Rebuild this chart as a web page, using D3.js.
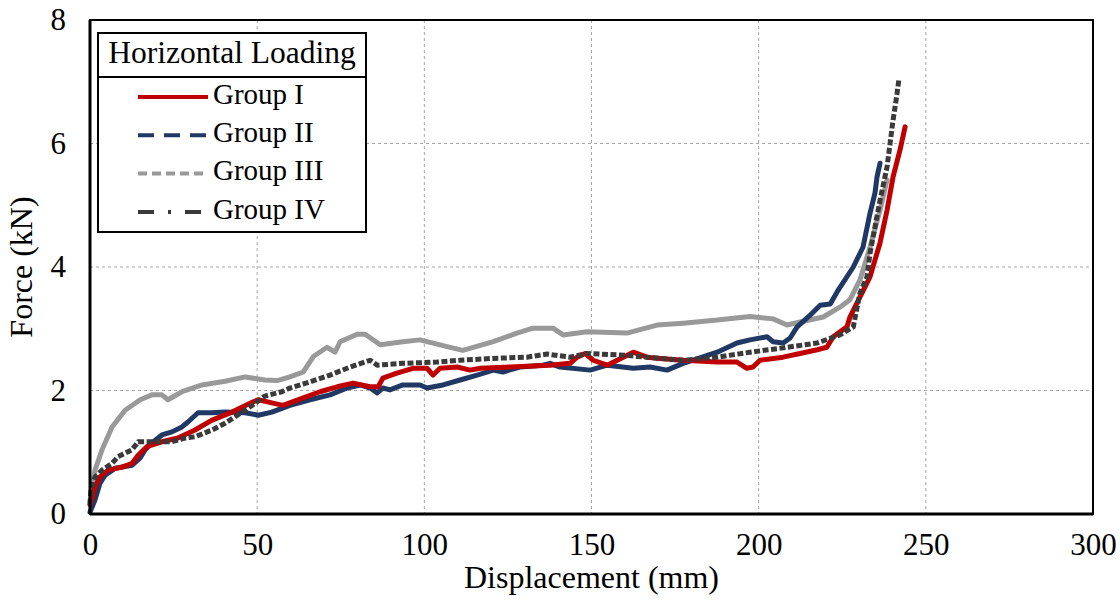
<!DOCTYPE html>
<html>
<head>
<meta charset="utf-8">
<script src="https://cdn.jsdelivr.net/npm/d3@7"></script>
<style>
  body { margin: 0; background: #fff; }
  svg { display: block; }
  svg text { font-family: "Liberation Serif", "Times New Roman", "DejaVu Serif", serif; }
</style>
</head>
<body>
<svg id="chart" width="1120" height="600"></svg>
<script>
// displacement (mm) / force (kN)
const groupI = [
  [0,0.15],[0.6,0.23],[1.5,0.44],[3,0.6],[5.4,0.71],[9.6,0.76],[12.6,0.82],[14.4,0.95],[17,1.09],
  [21.5,1.17],[26.3,1.23],[31.4,1.36],[36.5,1.52],[42.5,1.65],[48.5,1.81],[50.3,1.85],[54.4,1.8],
  [57.7,1.76],[63.8,1.88],[68.8,1.98],[73.9,2.06],[78.7,2.12],[83.8,2.06],[86.2,2.06],[87.6,2.2],
  [91.8,2.28],[96.6,2.36],[100.8,2.36],[102.6,2.25],[104.7,2.36],[109.8,2.38],[113.7,2.33],
  [116.7,2.36],[125.6,2.38],[137.6,2.41],[143.6,2.44],[145.7,2.54],[148.1,2.6],[150.5,2.49],
  [154.7,2.41],[157.7,2.49],[162.5,2.62],[166.6,2.54],[170.5,2.52],[177.4,2.49],[187.6,2.46],
  [193.5,2.46],[196.5,2.36],[198.3,2.38],[200.4,2.49],[207.3,2.54],[212.4,2.6],[217.5,2.66],
  [220.4,2.7],[222.3,2.87],[226.4,3.03],[227.3,3.19],[233.3,3.84],[236.3,4.39],[238.4,4.92],
  [240.2,5.46],[242.3,5.9],[243.8,6.27]
];
const groupII = [
  [0,0.03],[0.6,0.11],[1.5,0.23],[3,0.5],[4.5,0.63],[7.5,0.74],[12.6,0.79],[15,0.91],[16.5,1.04],
  [18.5,1.15],[21.5,1.28],[24.5,1.33],[27.5,1.41],[29.3,1.49],[32.3,1.64],[36.5,1.64],[40.4,1.65],
  [46.4,1.64],[50.3,1.6],[54.4,1.65],[59.8,1.76],[65.8,1.85],[71.8,1.93],[76.9,2.04],[80.8,2.09],
  [83.8,2.04],[85.9,1.96],[87.6,2.04],[89.7,2.01],[93.6,2.09],[98.7,2.09],[100.8,2.04],[105.6,2.09],
  [110.7,2.17],[115.8,2.25],[120.6,2.33],[123.5,2.3],[128.6,2.38],[135.5,2.41],[137.6,2.44],
  [140.6,2.38],[149.6,2.33],[154.7,2.41],[162.5,2.36],[167.5,2.38],[172.6,2.33],[177.4,2.44],
  [187.6,2.62],[193.5,2.77],[197.4,2.82],[202.5,2.87],[204.3,2.79],[207.3,2.77],[209.4,2.85],
  [211.5,3.03],[215.4,3.22],[218.4,3.38],[221.4,3.4],[223.5,3.6],[228.3,4.0],[231.2,4.32],
  [233.3,4.87],[234.8,5.2],[235.4,5.46],[236.3,5.68]
];
const groupIII = [
  [0,0.2],[1.5,0.71],[3.6,1.04],[6.6,1.41],[10.5,1.68],[15,1.85],[18.5,1.93],[21.5,1.93],[23.3,1.85],
  [27.5,1.98],[33.5,2.09],[40.4,2.15],[46.4,2.22],[52.3,2.17],[56,2.16],[59.8,2.22],[63.8,2.3],
  [66.8,2.55],[70.9,2.7],[73.3,2.62],[74.8,2.79],[79.9,2.91],[82.3,2.91],[86.8,2.74],[93.6,2.79],
  [98.7,2.82],[106.8,2.71],[111.5,2.65],[120.6,2.79],[127.7,2.93],[132.5,3.01],[138.5,3.01],
  [141.5,2.9],[148.7,2.95],[160.6,2.93],[169.6,3.06],[177.4,3.09],[187.6,3.14],[197.4,3.2],
  [204.3,3.16],[208.5,3.06],[212.4,3.11],[219.3,3.19],[224.3,3.35],[227.3,3.47],[230.3,3.79],
  [233.3,4.32],[236.3,4.92],[238.4,5.41]
];
const groupIV = [
  [0,0.15],[0.3,0.39],[1.5,0.6],[3.6,0.71],[6.6,0.82],[8.4,0.93],[12.6,1.04],[14.4,1.17],[18.5,1.17],
  [24.5,1.17],[28.4,1.23],[31.4,1.25],[36.5,1.36],[40.4,1.47],[45.5,1.65],[48.5,1.76],[52.3,1.91],
  [57.4,1.98],[59.8,2.04],[65.8,2.14],[71.8,2.25],[77.8,2.38],[83.8,2.49],[85.9,2.41],[93.6,2.44],
  [103.8,2.46],[110.7,2.49],[120.6,2.52],[130.7,2.54],[136.7,2.59],[143.6,2.54],[148.7,2.6],
  [160.6,2.57],[170.5,2.52],[177.4,2.49],[187.6,2.54],[197.4,2.62],[207.3,2.69],[217.5,2.77],
  [224.3,2.9],[228.3,3.03],[230.3,3.58],[232.4,3.84],[233.3,4.22],[234.8,4.65],[236.3,5.08],
  [238.4,5.62],[239.3,6.0],[240.2,6.38],[241.4,6.81],[242,7.06]
];

const seriesNames = ["Group I", "Group II", "Group III", "Group IV"];
const seriesColors = ["#C00000", "#1F3864", "#999999", "#3A3A3A"];
const xTicks = [0, 50, 100, 150, 200, 250, 300];
const yTicks = [0, 2, 4, 6, 8];

const margin = {top: 20, left: 90, right: 27, bottom: 86};
const width = 1120, height = 600;

const svg = d3.select("#chart");
const x = d3.scaleLinear().domain([0, 300]).range([margin.left, width - margin.right]);
const y = d3.scaleLinear().domain([0, 8]).range([height - margin.bottom, margin.top]);

// grid
svg.append("g")
  .selectAll("line")
  .data(xTicks.slice(1, -1))
  .enter()
  .append("line")
  .attr("x1", d => x(d)).attr("x2", d => x(d))
  .attr("y1", y(8)).attr("y2", y(0))
  .attr("stroke", "#a6a6a6").attr("stroke-width", 1).attr("stroke-dasharray", "3,3");
svg.append("g")
  .selectAll("line")
  .data(yTicks.slice(1, -1))
  .enter()
  .append("line")
  .attr("x1", x(0)).attr("x2", x(300))
  .attr("y1", d => y(d)).attr("y2", d => y(d))
  .attr("stroke", "#a6a6a6").attr("stroke-width", 1).attr("stroke-dasharray", "3,3");

// axes with d3
const xAxis = svg.append("g")
  .attr("transform", `translate(0,${y(0)})`)
  .call(d3.axisBottom(x).tickValues(xTicks).tickSize(0).tickPadding(19));
const yAxis = svg.append("g")
  .attr("transform", `translate(${x(0)},0)`)
  .call(d3.axisLeft(y).tickValues(yTicks).tickSize(0).tickPadding(24));
[xAxis, yAxis].forEach(a => {
  a.attr("font-family", null).attr("font-size", null);
  a.select(".domain").remove();
  a.selectAll("text")
    .attr("font-size", 31)
    .attr("fill", "#000");
});

// data
const line = d3.line().x(d => x(d[0])).y(d => y(d[1]));
const drawOrder = [2, 1, 0, 3];
const allData = [groupI, groupII, groupIII, groupIV];
const plotDash = [null, null, null, "6,2.5"];
drawOrder.forEach(i => {
  svg.append("path")
    .datum(allData[i])
    .attr("d", line)
    .attr("fill", "none")
    .attr("stroke", seriesColors[i])
    .attr("stroke-width", 5)
    .attr("stroke-linejoin", "round")
    .attr("stroke-linecap", i == 3 ? "butt" : "round")
    .attr("stroke-dasharray", plotDash[i]);
});

// frame
svg.append("rect")
  .attr("x", x(0)).attr("y", y(8))
  .attr("width", x(300) - x(0)).attr("height", y(0) - y(8))
  .attr("fill", "none").attr("stroke", "#000").attr("stroke-width", 2);
svg.append("line")
  .attr("x1", x(0)).attr("x2", x(300)).attr("y1", y(0)).attr("y2", y(0))
  .attr("stroke", "#000").attr("stroke-width", 3);
svg.append("line")
  .attr("x1", x(0)).attr("x2", x(0)).attr("y1", y(8)).attr("y2", y(0))
  .attr("stroke", "#000").attr("stroke-width", 3);

// axis titles
svg.append("text")
  .attr("x", (x(0) + x(300)) / 2).attr("y", 581)
  .attr("text-anchor", "middle").attr("dominant-baseline", "middle")
  .attr("font-size", 32)
  .text("Displacement (mm)");
svg.append("text")
  .attr("transform", `translate(25,${(y(0) + y(8)) / 2}) rotate(-90)`)
  .attr("text-anchor", "middle").attr("dominant-baseline", "middle")
  .attr("font-size", 32)
  .text("Force (kN)");

// legend
const lg = svg.append("g");
lg.append("rect")
  .attr("x", 98).attr("y", 33).attr("width", 268).attr("height", 199)
  .attr("fill", "#fff").attr("stroke", "#000").attr("stroke-width", 2);
lg.append("line")
  .attr("x1", 98).attr("x2", 366).attr("y1", 77).attr("y2", 77)
  .attr("stroke", "#000").attr("stroke-width", 2);
lg.append("text")
  .attr("x", 232).attr("y", 56)
  .attr("text-anchor", "middle").attr("dominant-baseline", "middle")
  .attr("font-size", 31.5)
  .text("Horizontal Loading");
const legendDash = [null, "16,10", "9,5", "16,14,3,14"];
seriesNames.forEach((n, i) => {
  const ry = 97 + i * 38.3;
  lg.append("line")
    .attr("x1", 138).attr("x2", 208).attr("y1", ry).attr("y2", ry)
    .attr("stroke", seriesColors[i]).attr("stroke-width", 4)
    .attr("stroke-dasharray", legendDash[i]);
  lg.append("text")
    .attr("x", 213).attr("y", ry)
    .attr("dominant-baseline", "middle")
    .attr("font-size", 29)
    .text(n);
});
</script>
</body>
</html>
